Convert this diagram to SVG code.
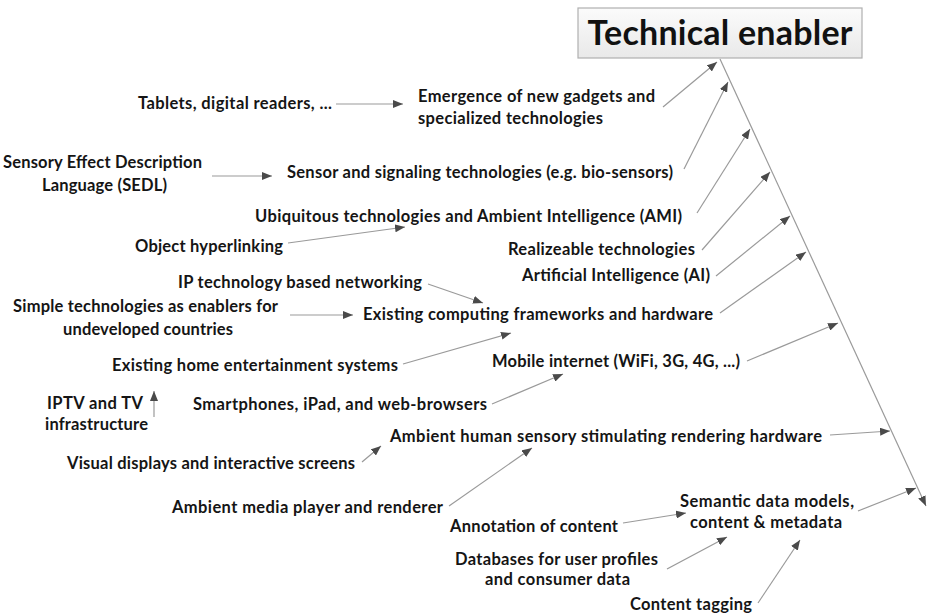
<svg xmlns="http://www.w3.org/2000/svg" width="929" height="615" viewBox="0 0 929 615">
<style>
  text { font-family: Lato, "Open Sans", "Liberation Sans", sans-serif; font-weight: bold; font-size: 16.5px; fill: #151515; }
  .title { font-size: 34px; fill: #111; }
  .c { fill: none; stroke: #9a9a9a; stroke-width: 1.2; marker-end: url(#ah); }
</style>
<defs>
  <marker id="ah" markerUnits="userSpaceOnUse" markerWidth="10" markerHeight="8" refX="10" refY="4" orient="auto">
    <path d="M0,0 L10,4 L0,8 z" fill="#4a4a4a"/>
  </marker>
  <linearGradient id="tg" x1="0" y1="0" x2="0" y2="1">
    <stop offset="0" stop-color="#fbfbfb"/>
    <stop offset="1" stop-color="#e9e9e9"/>
  </linearGradient>
</defs>
<rect width="929" height="615" fill="#ffffff"/>

<g id="connectors">
  <line class="c" x1="720" y1="59" x2="926" y2="506"/>
  <line class="c" x1="663" y1="107" x2="717" y2="62"/>
  <line class="c" x1="684" y1="169" x2="728" y2="82"/>
  <line class="c" x1="697" y1="213" x2="750" y2="129"/>
  <line class="c" x1="702" y1="250" x2="770" y2="172"/>
  <line class="c" x1="716" y1="276" x2="790" y2="216"/>
  <line class="c" x1="720" y1="313" x2="806" y2="252"/>
  <line class="c" x1="747" y1="361" x2="838" y2="323"/>
  <line class="c" x1="830" y1="435" x2="890" y2="431"/>
  <line class="c" x1="858" y1="511" x2="916" y2="488"/>
  <line class="c" x1="336" y1="104" x2="403" y2="104"/>
  <line class="c" x1="212" y1="176" x2="272" y2="176"/>
  <line class="c" x1="288" y1="243" x2="405" y2="227"/>
  <line class="c" x1="428" y1="284" x2="483" y2="303"/>
  <line class="c" x1="290" y1="315" x2="353" y2="315"/>
  <line class="c" x1="403" y1="364" x2="511" y2="333"/>
  <line class="c" x1="154" y1="417" x2="154" y2="391"/>
  <line class="c" x1="492" y1="404" x2="563" y2="374"/>
  <line class="c" x1="362" y1="462" x2="381" y2="446"/>
  <line class="c" x1="449" y1="506" x2="532" y2="448"/>
  <line class="c" x1="623" y1="523" x2="686" y2="513"/>
  <line class="c" x1="667" y1="569" x2="727" y2="537"/>
  <line class="c" x1="758" y1="603" x2="800" y2="540"/>
</g>

<g id="technical-enabler">
  <rect x="578" y="8" width="284" height="50" fill="url(#tg)" stroke="#b0b0b0" stroke-width="1.2"/>
  <text class="title" x="720" y="45" text-anchor="middle" textLength="265">Technical enabler</text>
</g>
<g id="tablets"><text x="138" y="109" textLength="194">Tablets, digital readers, ...</text></g>
<g id="emergence">
  <text x="418" y="102" textLength="237">Emergence of new gadgets and</text>
  <text x="418" y="124" textLength="185">specialized technologies</text>
</g>
<g id="sedl">
  <text x="3" y="168" textLength="199">Sensory Effect Description</text>
  <text x="42" y="191" textLength="125">Language (SEDL)</text>
</g>
<g id="sensor"><text x="287" y="178" textLength="386">Sensor and signaling technologies (e.g. bio-sensors)</text></g>
<g id="ubiquitous"><text x="255" y="222" textLength="427">Ubiquitous technologies and Ambient Intelligence (AMI)</text></g>
<g id="object-hyperlinking"><text x="135" y="252" textLength="148">Object hyperlinking</text></g>
<g id="realizeable"><text x="508" y="255" textLength="187">Realizeable technologies</text></g>
<g id="ai"><text x="522" y="281" textLength="188">Artificial Intelligence (AI)</text></g>
<g id="ip-networking"><text x="178" y="288" textLength="244">IP technology based networking</text></g>
<g id="simple-tech">
  <text x="13" y="312" textLength="265">Simple technologies as enablers for</text>
  <text x="63" y="335" textLength="170">undeveloped countries</text>
</g>
<g id="existing-computing"><text x="363" y="320" textLength="350">Existing computing frameworks and hardware</text></g>
<g id="home-entertainment"><text x="112" y="371" textLength="286">Existing home entertainment systems</text></g>
<g id="mobile-internet"><text x="492" y="367" textLength="248">Mobile internet (WiFi, 3G, 4G, ...)</text></g>
<g id="iptv">
  <text x="47" y="409" textLength="96">IPTV and TV</text>
  <text x="45" y="430" textLength="103">infrastructure</text>
</g>
<g id="smartphones"><text x="193" y="410" textLength="294">Smartphones, iPad, and web-browsers</text></g>
<g id="ambient-hardware"><text x="390" y="442" textLength="432">Ambient human sensory stimulating rendering hardware</text></g>
<g id="visual-displays"><text x="67" y="469" textLength="288">Visual displays and interactive screens</text></g>
<g id="media-player"><text x="172" y="513" textLength="271">Ambient media player and renderer</text></g>
<g id="semantic">
  <text x="680" y="507" textLength="174">Semantic data models,</text>
  <text x="690" y="528" textLength="152">content &amp; metadata</text>
</g>
<g id="annotation"><text x="450" y="532" textLength="168">Annotation of content</text></g>
<g id="databases">
  <text x="455" y="565" textLength="203">Databases for user profiles</text>
  <text x="485" y="585" textLength="145">and consumer data</text>
</g>
<g id="content-tagging"><text x="630" y="610" textLength="122">Content tagging</text></g>
</svg>
